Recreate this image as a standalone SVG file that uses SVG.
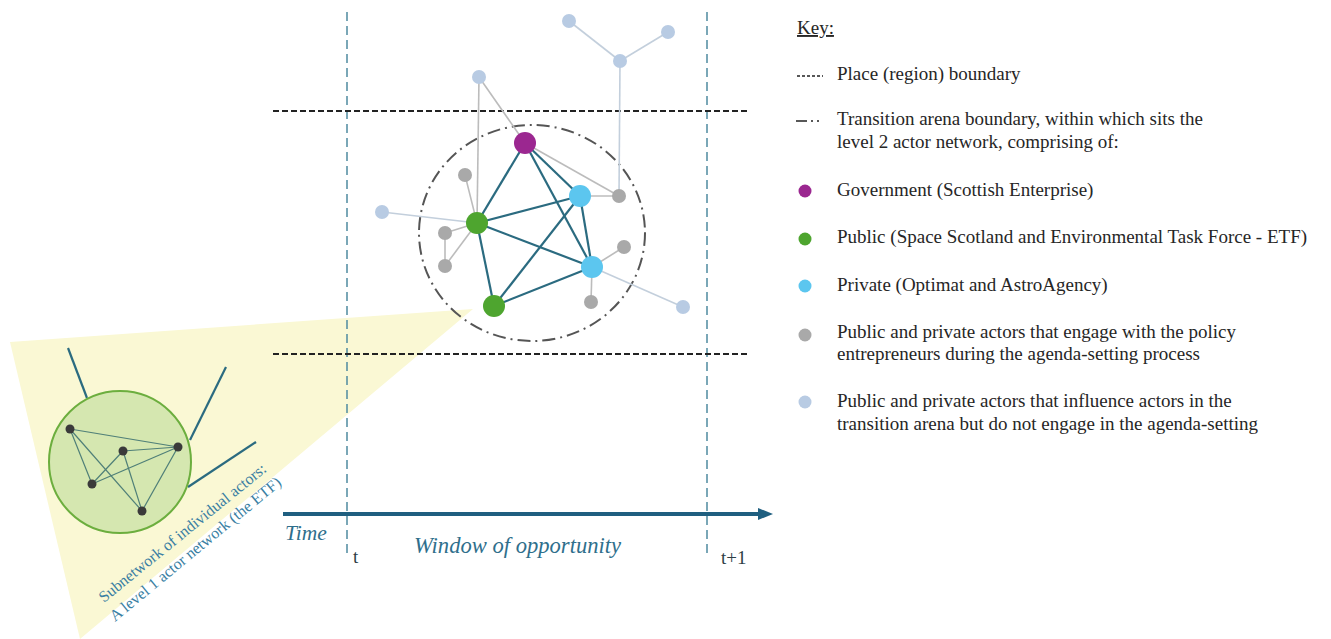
<svg xmlns="http://www.w3.org/2000/svg" width="1331" height="639" viewBox="0 0 1331 639">
<defs>
<style>
.serif{font-family:"Liberation Serif","Times New Roman",serif;}
.key{font-size:19px;fill:#262626;}
.teal{stroke:#2b6b80;stroke-width:2.2;fill:none;}
.lite{stroke:#bcbcbc;stroke-width:1.6;fill:none;}
.liteb{stroke:#c3cfdc;stroke-width:1.6;fill:none;}
.gov{fill:#9b2790;}
.pub{fill:#4ea52f;}
.pri{fill:#5cc6ef;}
.gry{fill:#a9a9a9;}
.lb{fill:#b8cbe3;}
.inner{stroke:#4f7f78;stroke-width:1.2;fill:none;}
.tline{stroke:#4f8aa0;stroke-width:1.5;stroke-dasharray:9 5;fill:none;}
.pline{stroke:#222;stroke-width:2;stroke-dasharray:6 3;fill:none;}
.tlab{font-size:19px;fill:#2d3e45;}
.ital{font-size:21.5px;font-style:italic;fill:#2f6f8c;}
.win{font-size:22.6px;}
</style>
</defs>
<rect width="1331" height="639" fill="#ffffff"/>

<!-- zoom cone -->
<polygon points="10,342 473,309 80,639" fill="#faf8d4"/>

<!-- boundaries -->
<g id="boundaries">
<line class="tline" x1="347" y1="12" x2="347" y2="556"/>
<line class="tline" x1="707" y1="12" x2="707" y2="556"/>
<line class="pline" x1="273" y1="111" x2="750" y2="111"/>
<line class="pline" x1="273" y1="354" x2="750" y2="354"/>
<ellipse cx="532" cy="233" rx="113" ry="108" fill="none" stroke="#555" stroke-width="2" stroke-dasharray="13 5 2 5"/>
</g>

<!-- time axis -->
<g id="time-axis">
<line x1="283" y1="514" x2="760" y2="514" stroke="#1f5f80" stroke-width="4"/>
<path d="M758,508 L773,514 L758,520 z" fill="#1f5f80"/>
<text x="285" y="540" class="serif ital">Time</text>
<text x="414" y="553" class="serif ital win">Window of opportunity</text>
<text x="353" y="563" class="serif tlab">t</text>
<text x="721" y="564" class="serif tlab">t+1</text>
</g>

<!-- connectors -->
<g id="connectors">
<line class="lite" x1="479" y1="77" x2="525" y2="143"/>
<line class="lite" x1="479" y1="77" x2="477" y2="223"/>
<line class="lite" x1="525" y1="143" x2="619" y2="196"/>
<line class="liteb" x1="620" y1="61" x2="619" y2="196"/>
<line class="liteb" x1="620" y1="61" x2="569" y2="21"/>
<line class="liteb" x1="620" y1="61" x2="668" y2="32"/>
<line class="lite" x1="580" y1="196" x2="619" y2="196"/>
<line class="lite" x1="477" y1="223" x2="465" y2="175"/>
<line class="liteb" x1="477" y1="223" x2="382" y2="212"/>
<line class="lite" x1="477" y1="223" x2="445" y2="233"/>
<line class="lite" x1="445" y1="233" x2="445" y2="266"/>
<line class="lite" x1="477" y1="223" x2="445" y2="266"/>
<line class="lite" x1="592" y1="267" x2="624" y2="247"/>
<line class="lite" x1="592" y1="267" x2="591" y2="302"/>
<line class="liteb" x1="592" y1="267" x2="683" y2="307"/>

<line class="teal" x1="525" y1="143" x2="477" y2="223"/>
<line class="teal" x1="525" y1="143" x2="580" y2="196"/>
<line class="teal" x1="525" y1="143" x2="592" y2="267"/>
<line class="teal" x1="477" y1="223" x2="580" y2="196"/>
<line class="teal" x1="477" y1="223" x2="592" y2="267"/>
<line class="teal" x1="477" y1="223" x2="494" y2="306"/>
<line class="teal" x1="494" y1="306" x2="580" y2="196"/>
<line class="teal" x1="494" y1="306" x2="592" y2="267"/>
<line class="teal" x1="580" y1="196" x2="592" y2="267"/>

<line class="teal" x1="87" y1="398" x2="68" y2="348"/>
<line class="teal" x1="190" y1="440" x2="226" y2="367"/>
<line class="teal" x1="188" y1="487" x2="256" y2="442"/>
</g>

<!-- level 2 nodes -->
<g id="node-gov"><circle class="gov" cx="525" cy="143" r="11"/></g>
<g id="node-pub1"><circle class="pub" cx="477" cy="223" r="11"/></g>
<g id="node-pub2"><circle class="pub" cx="494" cy="306" r="11"/></g>
<g id="node-pri1"><circle class="pri" cx="580" cy="196" r="11"/></g>
<g id="node-pri2"><circle class="pri" cx="592" cy="267" r="11"/></g>
<g id="node-g1"><circle class="gry" cx="465" cy="175" r="7"/></g>
<g id="node-g2"><circle class="gry" cx="619" cy="196" r="7"/></g>
<g id="node-g3"><circle class="gry" cx="445" cy="233" r="7"/></g>
<g id="node-g4"><circle class="gry" cx="445" cy="266" r="7"/></g>
<g id="node-g5"><circle class="gry" cx="624" cy="247" r="7"/></g>
<g id="node-g6"><circle class="gry" cx="591" cy="302" r="7"/></g>
<g id="node-lb1"><circle class="lb" cx="479" cy="77" r="7"/></g>
<g id="node-lb2"><circle class="lb" cx="569" cy="21" r="7"/></g>
<g id="node-lb3"><circle class="lb" cx="668" cy="32" r="7"/></g>
<g id="node-lb4"><circle class="lb" cx="620" cy="61" r="7"/></g>
<g id="node-lb5"><circle class="lb" cx="382" cy="212" r="7"/></g>
<g id="node-lb6"><circle class="lb" cx="683" cy="307" r="7"/></g>

<!-- subnetwork -->
<g id="subnetwork">
<circle cx="120" cy="462" r="71" fill="#d5e7b0" stroke="#6cae3e" stroke-width="2"/>
<line class="inner" x1="70" y1="429" x2="178" y2="447"/>
<line class="inner" x1="70" y1="429" x2="92" y2="484"/>
<line class="inner" x1="70" y1="429" x2="142" y2="511"/>
<line class="inner" x1="123" y1="451" x2="178" y2="447"/>
<line class="inner" x1="123" y1="451" x2="92" y2="484"/>
<line class="inner" x1="123" y1="451" x2="142" y2="511"/>
<line class="inner" x1="178" y1="447" x2="92" y2="484"/>
<line class="inner" x1="178" y1="447" x2="142" y2="511"/>
<circle cx="70" cy="429" r="4.5" fill="#3a3a3a"/>
<circle cx="123" cy="451" r="4.5" fill="#3a3a3a"/>
<circle cx="178" cy="447" r="4.5" fill="#3a3a3a"/>
<circle cx="92" cy="484" r="4.5" fill="#3a3a3a"/>
<circle cx="142" cy="511" r="4.5" fill="#3a3a3a"/>
<text class="serif" font-size="16" fill="#3a7fa3" transform="translate(104,603) rotate(-39)">Subnetwork of individual actors:</text>
<text class="serif" font-size="16" fill="#3a7fa3" transform="translate(115,622) rotate(-39.5)">A level 1 actor network (the ETF)</text>
</g>

<!-- key -->
<g id="key" class="serif key">
<text x="797" y="34" text-decoration="underline">Key:</text>
<line x1="797" y1="76" x2="823" y2="76" stroke="#222" stroke-width="1.3" stroke-dasharray="3 2"/>
<text x="837" y="80">Place (region) boundary</text>
<path d="M796,121 h11 M811,121 h2 M817,121 h2" stroke="#222" stroke-width="1.6"/>
<text x="837" y="125">Transition arena boundary, within which sits the</text>
<text x="837" y="148">level 2 actor network, comprising of:</text>
<circle class="gov" cx="805" cy="191" r="6.5"/>
<text x="837" y="196">Government (Scottish Enterprise)</text>
<circle class="pub" cx="805" cy="239" r="6.5"/>
<text x="837" y="243">Public (Space Scotland and Environmental Task Force - ETF)</text>
<circle class="pri" cx="805" cy="286" r="6.5"/>
<text x="837" y="291">Private (Optimat and AstroAgency)</text>
<circle class="gry" cx="805" cy="335" r="6.5"/>
<text x="837" y="338">Public and private actors that engage with the policy</text>
<text x="837" y="360">entrepreneurs during the agenda-setting process</text>
<circle class="lb" cx="805" cy="402" r="6.5"/>
<text x="837" y="407">Public and private actors that influence actors in the</text>
<text x="837" y="430">transition arena but do not engage in the agenda-setting</text>
</g>
</svg>
